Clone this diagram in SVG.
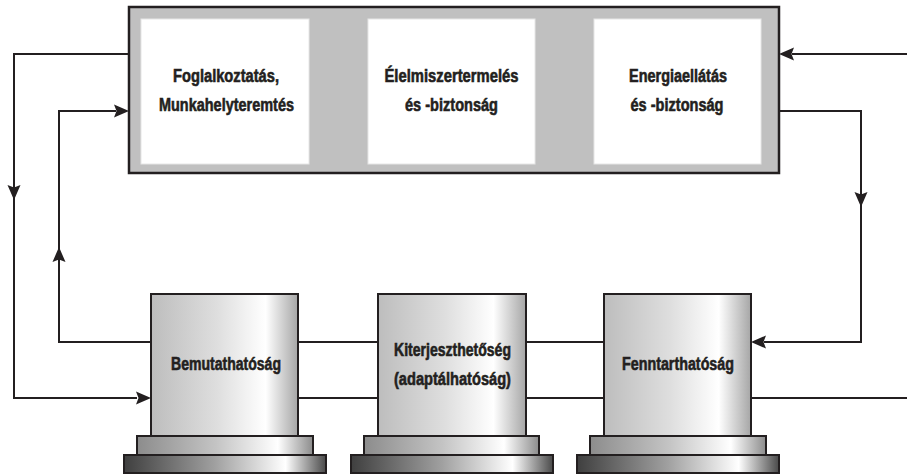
<svg xmlns="http://www.w3.org/2000/svg" xmlns:xlink="http://www.w3.org/1999/xlink" width="907" height="474" viewBox="0 0 907 474">
  <style>
    .frame { fill: #c0c0c0; stroke: #231f20; stroke-width: 2.5; }
    .panel { fill: #ffffff; stroke: #e6e6e6; stroke-width: 1; }
    .edge { fill: none; stroke: #231f20; stroke-width: 2; }
    .outline { stroke: #231f20; stroke-width: 2; }
    .head { fill: #231f20; }
    .lbl { font-family: "Liberation Sans", Arial, sans-serif; font-weight: bold; font-size: 18px; fill: #231f20; stroke: #231f20; stroke-width: 0.6; text-anchor: middle; }
  </style>
  <defs>
    <linearGradient id="colGrad" x1="0" y1="0" x2="1" y2="0">
      <stop offset="0" stop-color="#bdbdbd"/>
      <stop offset="0.45" stop-color="#dedede"/>
      <stop offset="0.78" stop-color="#ffffff"/>
      <stop offset="1" stop-color="#a6a6a6"/>
    </linearGradient>
    <linearGradient id="plinthGrad" x1="0" y1="0" x2="1" y2="0">
      <stop offset="0" stop-color="#8c8c8c"/>
      <stop offset="0.45" stop-color="#c4c4c4"/>
      <stop offset="0.8" stop-color="#ffffff"/>
      <stop offset="1" stop-color="#8c8c8c"/>
    </linearGradient>
    <linearGradient id="footGrad" x1="0" y1="0" x2="1" y2="0">
      <stop offset="0" stop-color="#3f3f3f"/>
      <stop offset="0.45" stop-color="#a0a0a0"/>
      <stop offset="0.8" stop-color="#ffffff"/>
      <stop offset="1" stop-color="#4a4a4a"/>
    </linearGradient>
    <!-- arrowhead pointing right, tip at the origin -->
    <path id="tip" d="M0,0 L-15,-6.5 L-12.5,0 L-15,6.5 Z"/>
  </defs>

  <!-- top frame with three goal panels -->
  <g id="goals">
    <rect class="frame" x="129" y="7" width="650" height="166"/>
    <g id="goal-employment">
      <rect class="panel" x="141" y="19" width="168" height="145"/>
      <text class="lbl" x="226" y="82" textLength="106" lengthAdjust="spacingAndGlyphs">Foglalkoztatás,</text>
      <text class="lbl" x="226.5" y="111" textLength="135" lengthAdjust="spacingAndGlyphs">Munkahelyteremtés</text>
    </g>
    <g id="goal-food">
      <rect class="panel" x="368" y="19" width="167" height="145"/>
      <text class="lbl" x="451.5" y="82" textLength="134" lengthAdjust="spacingAndGlyphs">Élelmiszertermelés</text>
      <text class="lbl" x="451.5" y="111" textLength="93" lengthAdjust="spacingAndGlyphs">és -biztonság</text>
    </g>
    <g id="goal-energy">
      <rect class="panel" x="594" y="19" width="167" height="145"/>
      <text class="lbl" x="678" y="82" textLength="98" lengthAdjust="spacingAndGlyphs">Energiaellátás</text>
      <text class="lbl" x="677" y="111" textLength="93" lengthAdjust="spacingAndGlyphs">és -biztonság</text>
    </g>
  </g>

  <!-- connectors -->
  <g id="connectors">
    <path class="edge" d="M129,54 H14 V398 H137"/>
    <path class="edge" d="M151,342 H59 V111 H116"/>
    <path class="edge" d="M907,54 H792"/>
    <path class="edge" d="M779,111 H861 V342 H764"/>
    <path class="edge" d="M298,342 H378 M298,398 H378 M526,342 H604 M526,398 H604 M751,398 H907"/>
    <use xlink:href="#tip" class="head" transform="translate(14,200) rotate(90)"/>
    <use xlink:href="#tip" class="head" transform="translate(151,398)"/>
    <use xlink:href="#tip" class="head" transform="translate(59,247) rotate(-90)"/>
    <use xlink:href="#tip" class="head" transform="translate(129,111)"/>
    <use xlink:href="#tip" class="head" transform="translate(779,54) rotate(180)"/>
    <use xlink:href="#tip" class="head" transform="translate(861,207) rotate(90)"/>
    <use xlink:href="#tip" class="head" transform="translate(751,342) rotate(180)"/>
  </g>

  <!-- pillars -->
  <g id="pillar-demonstrability">
    <rect class="outline" fill="url(#footGrad)" x="124" y="455" width="202" height="18"/>
    <rect class="outline" fill="url(#plinthGrad)" x="137" y="436" width="176" height="19"/>
    <rect class="outline" fill="url(#colGrad)" x="151" y="294" width="147" height="142"/>
    <text class="lbl" x="226" y="370" textLength="110" lengthAdjust="spacingAndGlyphs">Bemutathatóság</text>
  </g>
  <g id="pillar-scalability">
    <rect class="outline" fill="url(#footGrad)" x="351" y="455" width="202" height="18"/>
    <rect class="outline" fill="url(#plinthGrad)" x="364" y="436" width="175" height="19"/>
    <rect class="outline" fill="url(#colGrad)" x="378" y="294" width="148" height="142"/>
    <text class="lbl" x="452.5" y="356" textLength="117" lengthAdjust="spacingAndGlyphs">Kiterjeszthetőség</text>
    <text class="lbl" x="452.5" y="385" textLength="117" lengthAdjust="spacingAndGlyphs">(adaptálhatóság)</text>
  </g>
  <g id="pillar-sustainability">
    <rect class="outline" fill="url(#footGrad)" x="577" y="455" width="202" height="18"/>
    <rect class="outline" fill="url(#plinthGrad)" x="590" y="436" width="176" height="19"/>
    <rect class="outline" fill="url(#colGrad)" x="604" y="294" width="147" height="142"/>
    <text class="lbl" x="678" y="370" textLength="112" lengthAdjust="spacingAndGlyphs">Fenntarthatóság</text>
  </g>
</svg>
